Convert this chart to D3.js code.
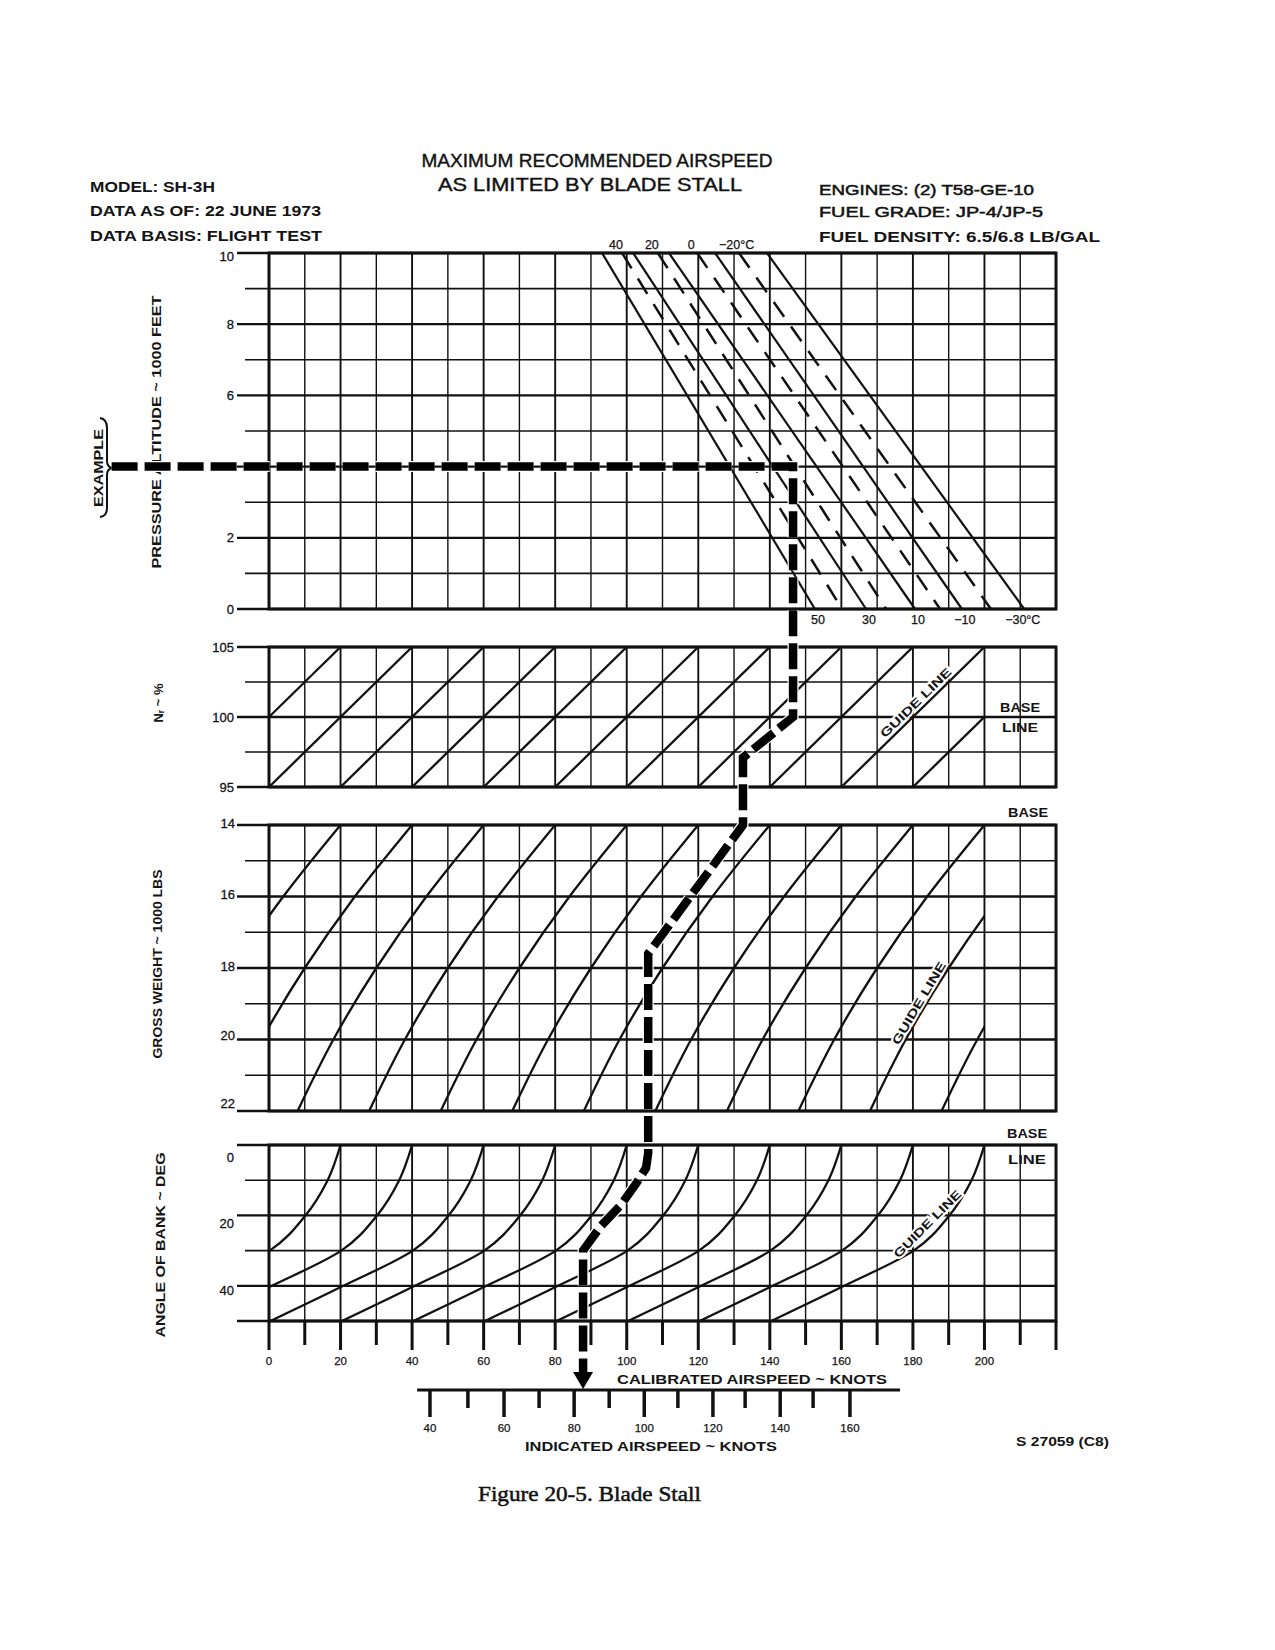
<!DOCTYPE html>
<html>
<head>
<meta charset="utf-8">
<title>Blade Stall</title>
<script src="https://cdn.jsdelivr.net/npm/d3@7/dist/d3.min.js"></script>
<style>
  html,body{margin:0;padding:0;background:#ffffff;}
  svg{display:block;}
  .lbl{font-family:"Liberation Sans","DejaVu Sans",Arial,sans-serif;fill:#141414;}
</style>
</head>
<body>
<svg id="chart" width="1275" height="1650" viewBox="0 0 1275 1650"></svg>
<script>
// ================= DATA =================
const casGrid = [0,10,20,30,40,50,60,70,80,90,100,110,120,130,140,150,160,170,180,190,200,210,220];
const casTickLabels = [0,20,40,60,80,100,120,140,160,180,200];

const altGrid = [0,1,2,3,4,5,6,7,8,9,10];
const altMajor = [0,2,4,6,8,10];
const altTickLabels = [0,2,4,6,8,10];

const nrGrid = [95,97.5,100,102.5,105];
const nrMajor = [95,100,105];
const nrTickLabels = [95,100,105];

const weightGrid = [14,15,16,17,18,19,20,21,22];
const weightMajor = [14,16,18,20,22];
const weightTickLabels = [14,16,18,20,22];

const bankGrid = [0,10,20,30,40,50];
const bankMajor = [0,20,40,50];
const bankTickLabels = [0,20,40];

// Temperature lines (altitude panel): CAS in knots at 10,000 ft and at 0 ft
const tempSolidAt10k = [93.1,101.8,111.8,124.7,139.2];
const tempSolidAt0   = [152.6,166.9,180.6,193.7,211.1];
const tempSolidLabels = ["50","30","10","\u221210","\u221230\u00B0C"];
const tempDashAt10k = [98.7,108.7,119.7,131.4];
const tempDashAt0   = [160.2,172.5,187.6,201.8];
const tempDashLabels = ["40","20","0","\u221220\u00B0C"];

// Nr correction lines: CAS at Nr 105 % and at Nr 95 %
const nrLineAt105 = [20,40,60,80,100,120,140,160,180,200,220];
const nrLineAt95  = [-20,0,20,40,60,80,100,120,140,160,180];
const nrGuideIndex = 9;

// Gross-weight correction lines: CAS at 14,000 lb plus shift profile
const weightLineAt14 = [20,40,60,80,100,120,140,160,180,200,220,240];
const weightProfileW = [14,16,18,20,22];
const weightProfileShift = [0,-16,-30,-42,-52];
const weightGuideIndex = 10;

// Angle-of-bank correction curves: CAS at 0 deg plus shift profile
const bankLineAt0 = [20,40,60,80,100,120,140,160,180,200];
const bankProfileDeg = [0,10,20,30,40,50];
const bankProfileShift = [0,-3.6,-9.8,-19.8,-39.2,-59.6];
const bankGuideIndex = 9;

// Indicated airspeed scale (IAS ticks placed at their CAS equivalents)
const iasTicks = [40,50,60,70,80,90,100,110,120,130,140,150,160];
const iasAsCas = [45.0,55.6,65.7,75.5,85.3,95.1,104.9,114.3,124.1,133.1,142.9,152.1,162.4];
const iasTickLabels = [40,60,80,100,120,140,160];
const iasLineCas = [41.4,176.4];

// Worked example path (panel, CAS knots, panel value)
const examplePath = [
  {p:"alt", kn:-44,   v:4},
  {p:"alt", kn:146.5, v:4},
  {p:"nr",  kn:146.5, v:100},
  {p:"nr",  kn:132.5, v:97.1},
  {p:"wt",  kn:132.5, v:14},
  {p:"wt",  kn:106,   v:17.6},
  {p:"bank",kn:106,   v:2.3},
  {p:"bank",kn:105.4, v:6.5},
  {p:"bank",kn:102.6, v:11},
  {p:"bank",kn:98.4,  v:17},
  {p:"bank",kn:92.8,  v:23},
  {p:"bank",kn:87.8,  v:30},
  {p:"bank",kn:87.8,  v:50}
];

const titleLines = ["MAXIMUM RECOMMENDED AIRSPEED","AS LIMITED BY BLADE STALL"];
const headerLeft = ["MODEL: SH-3H","DATA AS OF: 22 JUNE 1973","DATA BASIS: FLIGHT TEST"];
const headerRight = ["ENGINES: (2) T58-GE-10","FUEL GRADE: JP-4/JP-5","FUEL DENSITY: 6.5/6.8 LB/GAL"];

// ================= DRAWING =================
const ink = "#111";
const svg = d3.select("#chart");
svg.append("rect").attr("width",1275).attr("height",1650).attr("fill","#fff");

const x = d3.scaleLinear().domain([0,220]).range([269,1056]);
const yAlt  = d3.scaleLinear().domain([0,10]).range([609,253]);
const yNr   = d3.scaleLinear().domain([95,105]).range([787,647]);
const yWt   = d3.scaleLinear().domain([14,22]).range([825,1111]);
const yBank = d3.scaleLinear().domain([0,50]).range([1145,1321]);
const py = {alt:yAlt, nr:yNr, wt:yWt, bank:yBank};

function addText(g, str, px, pyy, o={}) {
  const t = g.append("text").attr("class","lbl").attr("x",px).attr("y",pyy)
    .attr("text-anchor", o.anchor||"middle")
    .attr("dominant-baseline", o.baseline||"central")
    .attr("font-size", o.size||12)
    .attr("font-weight", o.weight||"normal")
    .text(str);
  if (o.len) t.attr("textLength", o.len).attr("lengthAdjust","spacingAndGlyphs");
  if (o.rotate!=null) t.attr("transform",`rotate(${o.rotate},${px},${pyy})`);
  if (o.stroke) t.attr("stroke", ink).attr("stroke-width", o.stroke);
  if (o.halo) t.attr("stroke","#fff").attr("stroke-width",o.halo).attr("paint-order","stroke");
  if (o.family) t.style("font-family", o.family);
  if (o.spacing) t.attr("letter-spacing", o.spacing);
  return t;
}

const gridG = svg.append("g");
function drawPanel(ys, grid, major) {
  const [d0,d1] = ys.domain();
  const yTop = Math.min(ys(d0), ys(d1)), yBot = Math.max(ys(d0), ys(d1));
  gridG.selectAll(null).data(casGrid).enter().append("line")
    .attr("x1", d=>x(d)).attr("x2", d=>x(d)).attr("y1", yTop).attr("y2", yBot)
    .attr("stroke", ink).attr("stroke-width", d=> d%20===0 ? 1.9 : 1.4);
  gridG.selectAll(null).data(grid).enter().append("line")
    .attr("x1", d=> major.includes(d) ? 237 : 245).attr("x2", x(220))
    .attr("y1", d=>ys(d)).attr("y2", d=>ys(d))
    .attr("stroke", ink).attr("stroke-width", d=> major.includes(d) ? 2.3 : 1.6);
  gridG.append("rect").attr("x", x(0)).attr("y", yTop).attr("width", x(220)-x(0)).attr("height", yBot-yTop)
    .attr("fill","none").attr("stroke", ink).attr("stroke-width", 3);
}
drawPanel(yAlt, altGrid, altMajor);
drawPanel(yNr, nrGrid, nrMajor);
drawPanel(yWt, weightGrid, weightMajor);
drawPanel(yBank, bankGrid, bankMajor);

const defs = svg.append("defs");
function clip(id, k0, k1, ys) {
  const [a,b] = ys.range();
  defs.append("clipPath").attr("id", id).append("rect")
    .attr("x", x(k0)).attr("y", Math.min(a,b)).attr("width", x(k1)-x(k0)).attr("height", Math.abs(b-a));
}
clip("cNr", 0, 200, yNr);
clip("cWt", 0, 200, yWt);
clip("cBank", 0, 220, yBank);

// ---- Altitude panel temperature lines ----
const tG = svg.append("g");
tG.selectAll(null).data(tempSolidAt10k).enter().append("line")
  .attr("x1", d=>x(d)).attr("y1", yAlt(10))
  .attr("x2", (d,i)=>x(tempSolidAt0[i])).attr("y2", yAlt(0))
  .attr("stroke", ink).attr("stroke-width", 2.2);
tG.selectAll(null).data(tempDashAt10k).enter().append("line")
  .attr("x1", d=>x(d)).attr("y1", yAlt(10))
  .attr("x2", (d,i)=>x(tempDashAt0[i])).attr("y2", yAlt(0))
  .attr("stroke", ink).attr("stroke-width", 2.5).attr("stroke-dasharray","18,12");

tempDashLabels.forEach((s,i)=>{
  const last = i===tempDashLabels.length-1;
  addText(tG, s, x(tempDashAt10k[i]) + (last ? -20 : -6), 245, {size:12.5, anchor: last ? "start":"middle", stroke:0.25});
});
tempSolidLabels.forEach((s,i)=>{
  const last = i===tempSolidLabels.length-1;
  addText(tG, s, x(tempSolidAt0[i]) + (last ? -19 : 3), 620, {size:12.5, anchor: last ? "start":"middle", stroke:0.25});
});

// ---- Nr lines ----
const nG = svg.append("g").attr("clip-path","url(#cNr)");
nG.selectAll(null).data(nrLineAt105).enter().append("line")
  .attr("x1", (d,i)=>x(nrLineAt95[i])).attr("y1", yNr(95))
  .attr("x2", d=>x(d)).attr("y2", yNr(105))
  .attr("stroke", ink).attr("stroke-width", 2.3);

// ---- Weight lines ----
const wG = svg.append("g").attr("clip-path","url(#cWt)");
const wLine = d3.line().x(d=>x(d[0])).y(d=>yWt(d[1])).curve(d3.curveMonotoneY);
wG.selectAll(null).data(weightLineAt14).enter().append("path")
  .attr("d", t => wLine(weightProfileW.map((w,j)=>[t+weightProfileShift[j], w])))
  .attr("fill","none").attr("stroke", ink).attr("stroke-width", 2.3);

// ---- Bank curves ----
const bG = svg.append("g").attr("clip-path","url(#cBank)");
const bLine = d3.line().x(d=>x(d[0])).y(d=>yBank(d[1])).curve(d3.curveMonotoneY);
bG.selectAll(null).data(bankLineAt0).enter().append("path")
  .attr("d", t => bLine(bankProfileDeg.map((b,j)=>[t+bankProfileShift[j], b])))
  .attr("fill","none").attr("stroke", ink).attr("stroke-width", 2.3);

// ---- Guide line labels ----
const labG = svg.append("g");
function guideLabel(p0, p1, offset, len) {
  const dx = p1[0]-p0[0], dy = p1[1]-p0[1];
  const ang = Math.atan2(dy, dx);
  const nx = Math.sin(ang), ny = -Math.cos(ang);
  const cx = (p0[0]+p1[0])/2 + nx*offset, cy = (p0[1]+p1[1])/2 + ny*offset;
  addText(labG, "GUIDE LINE", cx, cy, {size:12, len:len, rotate: ang*180/Math.PI, halo:4, weight:"bold"});
}
{
  const t = nrLineAt105[nrGuideIndex], b = nrLineAt95[nrGuideIndex];
  const at = nr => b + (t-b)*(nr-95)/10;
  guideLabel([x(at(99.4)), yNr(99.4)], [x(at(101.8)), yNr(101.8)], 8, 94);
}
{
  const t = weightLineAt14[weightGuideIndex];
  const sh = d3.scaleLinear().domain(weightProfileW).range(weightProfileShift);
  guideLabel([x(t+sh(20.3)), yWt(20.3)], [x(t+sh(17.9)), yWt(17.9)], 8, 94);
}
{
  const t = bankLineAt0[bankGuideIndex];
  const sh = d3.scaleLinear().domain(bankProfileDeg).range(bankProfileShift);
  guideLabel([x(t+sh(29)), yBank(29)], [x(t+sh(19.5)), yBank(19.5)], 9, 90);
}

// ---- BASE / LINE labels ----
addText(labG, "BASE", 1020, 708, {size:12.5, len:40, weight:"bold"});
addText(labG, "LINE", 1020, 728, {size:12.5, len:36, weight:"bold"});
addText(labG, "BASE", 1028, 813, {size:12.5, len:40, weight:"bold"});
addText(labG, "BASE", 1027, 1134, {size:12.5, len:40, weight:"bold"});
addText(labG, "LINE", 1027, 1160, {size:12.5, len:38, weight:"bold"});

// ---- Left tick labels ----
const tl = svg.append("g");
altTickLabels.forEach(v => addText(tl, String(v), 234, yAlt(v) + (v===10?3:0), {size:13, anchor:"end", stroke:0.3}));
nrTickLabels.forEach(v => addText(tl, String(v), 234, yNr(v), {size:13, anchor:"end", stroke:0.3}));
weightTickLabels.forEach(v => addText(tl, String(v), 235, yWt(v) - (v===22?8:(v===20?4:2)), {size:13, anchor:"end", stroke:0.3}));
bankTickLabels.forEach(v => addText(tl, String(v), 234, yBank(v) + (v===0?12:(v===20?8:5)), {size:13, anchor:"end", stroke:0.3}));

// ---- Axis titles (rotated) ----
addText(tl, "PRESSURE ALTITUDE ~ 1000 FEET", 157, 432, {size:12.5, len:273, rotate:-90, weight:"bold"});
{
  const t = tl.append("text").attr("class","lbl").attr("x",158).attr("y",703)
    .attr("text-anchor","middle").attr("dominant-baseline","central")
    .attr("font-size",13).attr("font-weight","bold")
    .attr("transform","rotate(-90,158,703)");
  t.append("tspan").text("N");
  t.append("tspan").attr("font-size",8.5).attr("baseline-shift","-3").text("r");
  t.append("tspan").text(" ~ %");
}
addText(tl, "GROSS WEIGHT ~ 1000 LBS", 158, 964, {size:12.5, len:189, rotate:-90, weight:"bold"});
addText(tl, "ANGLE OF BANK ~ DEG", 161, 1245, {size:12.5, len:185, rotate:-90, weight:"bold"});

// ---- EXAMPLE label and brace ----
addText(tl, "EXAMPLE", 99, 468, {size:12.5, len:78, rotate:-90, weight:"bold"});
svg.append("path")
  .attr("d","M100,418 Q107,419 107,428 L107,461 Q107,467 112,468 Q107,469 107,475 L107,508 Q107,516 100,517")
  .attr("fill","none").attr("stroke",ink).attr("stroke-width",2);

// ---- CAS bottom ticks and labels ----
const axG = svg.append("g");
const yB0 = yBank(50);
axG.selectAll(null).data(casGrid).enter().append("line")
  .attr("x1", d=>x(d)).attr("x2", d=>x(d))
  .attr("y1", yB0).attr("y2", d=> d%20===0 ? yB0+29 : yB0+24)
  .attr("stroke", ink).attr("stroke-width", 3);
casTickLabels.forEach(v => addText(axG, String(v), x(v), 1361, {size:11.5, stroke:0.25}));
addText(axG, "CALIBRATED AIRSPEED ~ KNOTS", 752, 1380, {size:12.5, len:270, weight:"bold"});

// ---- IAS axis ----
const iasY = 1390;
axG.append("line").attr("x1", x(iasLineCas[0])).attr("x2", x(iasLineCas[1]))
  .attr("y1", iasY).attr("y2", iasY).attr("stroke", ink).attr("stroke-width", 3.2);
axG.selectAll(null).data(iasTicks).enter().append("line")
  .attr("x1",(d,i)=>x(iasAsCas[i])).attr("x2",(d,i)=>x(iasAsCas[i]))
  .attr("y1", iasY).attr("y2", d=> iasTickLabels.includes(d) ? iasY+27 : iasY+18)
  .attr("stroke", ink).attr("stroke-width", 3.5);
iasTickLabels.forEach(v => {
  const i = iasTicks.indexOf(v);
  addText(axG, String(v), x(iasAsCas[i]), 1428, {size:11.5, stroke:0.25});
});
addText(axG, "INDICATED AIRSPEED ~ KNOTS", 651, 1447, {size:12.5, len:252, weight:"bold"});

// ---- Example path ----
const exG = svg.append("g");
const exPts = examplePath.map(d => [x(d.kn), py[d.p](d.v)]);
const last = examplePath[examplePath.length-1];
exPts.push([x(last.kn), iasY-17]);
const exLine = d3.line();
exG.append("path").attr("d", exLine(exPts)).attr("fill","none")
  .attr("stroke","#fff").attr("stroke-width",11).attr("stroke-dasharray","26,7").attr("stroke-linejoin","miter");
exG.append("path").attr("d", exLine(exPts)).attr("fill","none")
  .attr("stroke","#000").attr("stroke-width",8.5).attr("stroke-dasharray","26,7").attr("stroke-linejoin","miter");
{
  const xe = x(last.kn);
  exG.append("path").attr("d", `M${xe-10},${iasY-18} L${xe+10},${iasY-18} L${xe},${iasY-1} Z`).attr("fill","#000");
}

// ---- Header texts ----
const hG = svg.append("g");
addText(hG, titleLines[0], 597, 161, {size:18, len:351, stroke:0.4});
addText(hG, titleLines[1], 590, 185, {size:18, len:304, stroke:0.4});
const leftLens = [125, 231, 232];
headerLeft.forEach((s,i)=> addText(hG, s, 90, [186,210,235][i], {size:15, anchor:"start", len:leftLens[i], weight:"bold"}));
const rightLens = [215, 224, 281];
headerRight.forEach((s,i)=> addText(hG, s, 819, [189,211,236][i], {size:15, anchor:"start", len:rightLens[i], weight: i===2 ? "bold":"normal", stroke: i===2?0:0.5}));

addText(hG, "S 27059 (C8)", 1016, 1441, {size:13, anchor:"start", len:93, weight:"bold"});
addText(hG, "Figure 20-5.  Blade Stall", 478, 1494, {size:21, anchor:"start", len:223, family:'"Liberation Serif","DejaVu Serif",serif', stroke:0.5});
</script>
</body>
</html>
